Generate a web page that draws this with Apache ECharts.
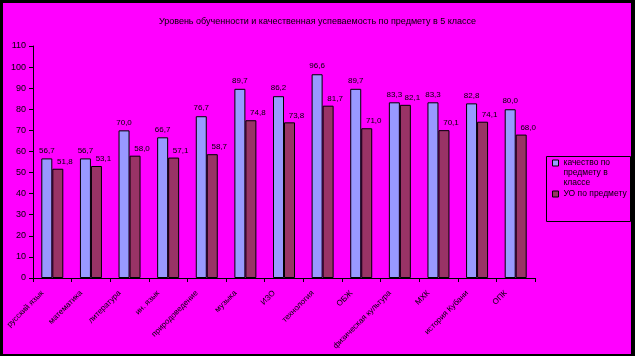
<!DOCTYPE html>
<html>
<head>
<meta charset="utf-8">
<script src="https://cdn.jsdelivr.net/npm/echarts@6/dist/echarts.min.js"></script>
<style>
html,body{margin:0;padding:0;background:#000;}
#chart{position:absolute;left:0;top:0;width:635px;height:356px;background:#FF00FF;}
#frame{position:absolute;left:0;top:0;width:635px;height:356px;box-sizing:border-box;border-top:3px solid #000;border-left:3px solid #000;border-bottom:2px solid #000;border-right:4px solid #000;pointer-events:none;}
</style>
</head>
<body>
<div id="chart"></div>
<div id="frame"></div>
<script>
const titleText = 'Уровень обученности и качественная успеваемость по предмету в 5 классе';
const categories = ['русский язык','математика','литература','ин. язык','природоведение','музыка','ИЗО','технология','ОБЖ','физическая культура','МХК','история Кубани','ОПК'];
const seriesNames = ['качество по предмету в классе','УО по предмету'];
const quality = [56.7,56.7,70.0,66.7,76.7,89.7,86.2,96.6,89.7,83.3,83.3,82.8,80.0];
const uo = [51.8,53.1,58.0,57.1,58.7,74.8,73.8,81.7,71.0,82.1,70.1,74.1,68.0];
const yTicks = {min:0,max:110,interval:10};

const fmt = p => p.value.toFixed(1).replace('.', ',');
const font = 'Arial, "Liberation Sans", sans-serif';

const chart = echarts.init(document.getElementById('chart'), null, {renderer:'canvas'});
chart.setOption({
  animation:false,
  backgroundColor:'#FF00FF',
  textStyle:{fontFamily:font},
  title:{text:titleText,left:'center',top:12,textStyle:{fontSize:9,fontWeight:'normal',color:'#000',fontFamily:font}},
  grid:{left:33,top:46,right:100,bottom:78,containLabel:false},
  legend:{
    orient:'vertical',left:552,top:138,padding:0,itemWidth:6,itemHeight:6,itemGap:1,icon:'rect',
    data:seriesNames,
    itemStyle:{borderColor:'#000',borderWidth:1},
    formatter:n=>n==='качество по предмету в классе'?' \n \nкачество по\nпредмету в\nклассе':n,
    textStyle:{fontSize:8.5,color:'#000',lineHeight:10,fontFamily:font}
  },
  graphic:[{type:'rect',shape:{x:546.5,y:156.5,width:84,height:65},style:{fill:'none',stroke:'#000',lineWidth:1},z:0}],
  xAxis:{
    type:'category',data:categories,
    axisLine:{lineStyle:{color:'#000',width:1}},
    axisTick:{show:true,length:4,lineStyle:{color:'#000'}},
    axisLabel:{rotate:45,fontSize:8,color:'#000',margin:4,padding:[0,14,0,0],interval:0,fontFamily:font}
  },
  yAxis:{
    type:'value',min:yTicks.min,max:yTicks.max,interval:yTicks.interval,
    axisLine:{show:true,lineStyle:{color:'#000',width:1}},
    axisTick:{show:true,length:4,lineStyle:{color:'#000'}},
    axisLabel:{fontSize:9,color:'#000',margin:7,fontFamily:font},
    splitLine:{show:false}
  },
  series:[
    {name:seriesNames[0],type:'bar',data:quality,barWidth:11,barGap:'0%',
     itemStyle:{color:'#9999FF',borderColor:'#000',borderWidth:1},
     label:{show:true,position:'top',distance:4,fontSize:8,color:'#000',formatter:fmt,fontFamily:font}},
    {name:seriesNames[1],type:'bar',data:uo,barWidth:11,barGap:'0%',
     itemStyle:{color:'#993366',borderColor:'#000',borderWidth:1},
     label:{show:true,position:'top',distance:3,offset:[7,0],fontSize:8,color:'#000',formatter:fmt,fontFamily:font}}
  ]
});
</script>
</body>
</html>
